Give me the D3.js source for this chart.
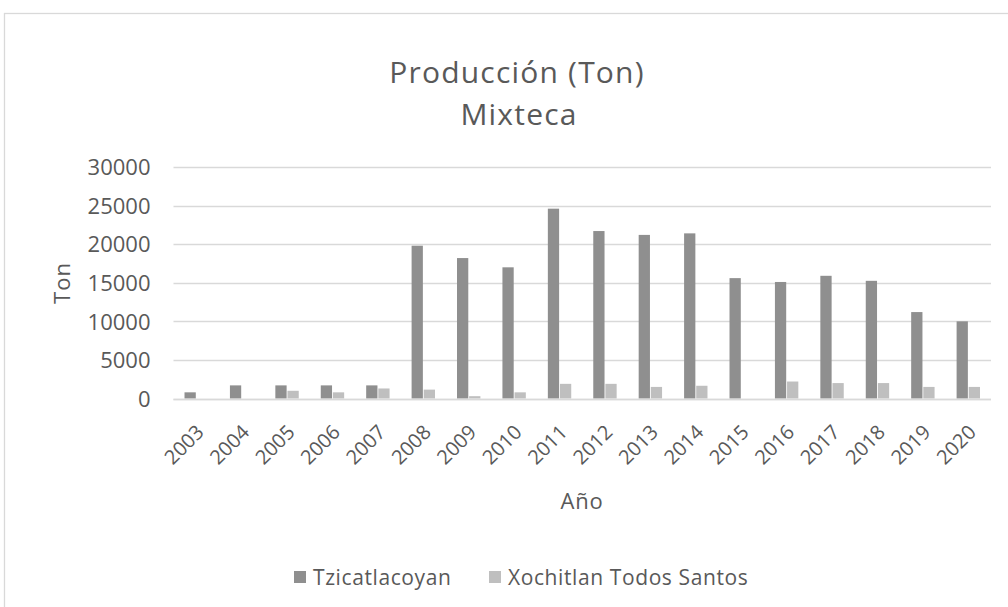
<!DOCTYPE html>
<html>
<head>
<meta charset="utf-8">
<script src="https://cdn.jsdelivr.net/npm/d3@7"></script>
<style>
  html, body { margin: 0; padding: 0; background: #fff; }
  svg { display: block; font-family: "Open Sans", Lato, sans-serif; }
</style>
</head>
<body>
<svg id="chart" width="1008" height="607"></svg>
<script>
const years = ["2003","2004","2005","2006","2007","2008","2009","2010","2011","2012","2013","2014","2015","2016","2017","2018","2019","2020"];
const seriesNames = ["Tzicatlacoyan", "Xochitlan Todos Santos"];
const tzicatlacoyan = [800, 1700, 1700, 1700, 1700, 19800, 18200, 17000, 24600, 21700, 21200, 21400, 15600, 15100, 15900, 15250, 11200, 10000];
const xochitlan = [0, 0, 1000, 800, 1300, 1150, 300, 800, 1900, 1900, 1500, 1650, 0, 2200, 2000, 2000, 1500, 1500];
const yTicks = [0, 5000, 10000, 15000, 20000, 25000, 30000];
const titleLines = ["Producción (Ton)", "Mixteca"];
const xTitle = "Año";
const yTitle = "Ton";

const colors = ["#8f8f8f", "#bfbfbf"];
const textColor = "#595959";

const svg = d3.select("#chart");

// chart frame
svg.append("rect").attr("x", 4.5).attr("y", 13.5).attr("width", 1030).attr("height", 620)
  .attr("fill", "#fff").attr("stroke", "#d9d9d9").attr("stroke-width", 1.3);

const plot = { left: 173.5, right: 991, top: 167, bottom: 398.5 };

const x0 = d3.scaleBand().domain(years).range([plot.left, plot.right])
  .paddingInner(0.485).paddingOuter(0.2425);
const x1 = d3.scaleBand().domain([0, 1]).range([0, x0.bandwidth()]).paddingInner(0.07);
const y = d3.scaleLinear().domain([0, 30000]).range([plot.bottom, plot.top]);

// gridlines
svg.append("g").selectAll("line").data(yTicks).join("line")
  .attr("x1", plot.left).attr("x2", plot.right)
  .attr("y1", d => Math.round(y(d)) + 0.5).attr("y2", d => Math.round(y(d)) + 0.5)
  .attr("stroke", "#d9d9d9").attr("stroke-width", 1.3);

// y axis labels
const yAxis = d3.axisLeft(y).tickValues(yTicks).tickSize(0).tickPadding(0).tickFormat(d3.format("d"));
const gy = svg.append("g").attr("transform", `translate(${plot.left - 23},0)`).call(yAxis);
gy.select(".domain").remove();
gy.selectAll("text").attr("fill", textColor).style("font-size", "22px").style("font-family", "Open Sans")
  .attr("dy", "0.35em");

// bars
const data = years.map((yr, i) => ({ year: yr, vals: [tzicatlacoyan[i], xochitlan[i]] }));
const groups = svg.append("g").selectAll("g").data(data).join("g")
  .attr("transform", d => `translate(${x0(d.year)},0)`);
groups.selectAll("rect").data(d => d.vals.map((v, k) => ({ v, k }))).join("rect")
  .attr("x", d => x1(d.k)).attr("width", x1.bandwidth())
  .attr("y", d => y(d.v)).attr("height", d => y(0) - y(d.v))
  .attr("fill", d => colors[d.k]);

// baseline
svg.append("line").attr("x1", plot.left).attr("x2", plot.right)
  .attr("y1", Math.round(y(0)) + 0.5).attr("y2", Math.round(y(0)) + 0.5)
  .attr("stroke", "#d9d9d9").attr("stroke-width", 1.3);

// x axis labels
const xAxis = d3.axisBottom(x0).tickSize(0).tickPadding(0);
const gx = svg.append("g").attr("transform", `translate(0,${plot.bottom})`).call(xAxis);
gx.select(".domain").remove();
gx.selectAll("text")
  .attr("fill", textColor).style("font-size", "20px").style("font-family", "Open Sans")
  .attr("text-anchor", "end").attr("dy", null).attr("y", 0)
  .attr("transform", "translate(9,35) rotate(-45)");

// titles
svg.append("text").attr("x", 517).attr("y", 83).attr("text-anchor", "middle")
  .attr("fill", textColor).style("font-size", "30px").style("letter-spacing", "1.2px").text(titleLines[0]);
svg.append("text").attr("x", 519).attr("y", 125).attr("text-anchor", "middle")
  .attr("fill", textColor).style("font-size", "30px").style("letter-spacing", "1.2px").text(titleLines[1]);

svg.append("text").attr("x", 582).attr("y", 509).attr("text-anchor", "middle")
  .attr("fill", textColor).style("font-size", "22px").style("letter-spacing", "0.8px").text(xTitle);

svg.append("text").attr("transform", "translate(70,283) rotate(-90)").attr("text-anchor", "middle")
  .attr("fill", textColor).style("font-size", "22px").style("letter-spacing", "1px").text(yTitle);

// legend
const legend = svg.append("g");
const legX = [294, 489];
seriesNames.forEach((name, k) => {
  legend.append("rect").attr("x", legX[k]).attr("y", 571).attr("width", 12).attr("height", 12).attr("fill", colors[k]);
  legend.append("text").attr("x", legX[k] + 19).attr("y", 585).attr("fill", textColor)
    .style("font-size", "21px").style("letter-spacing", "0.6px").text(name);
});
</script>
</body>
</html>
